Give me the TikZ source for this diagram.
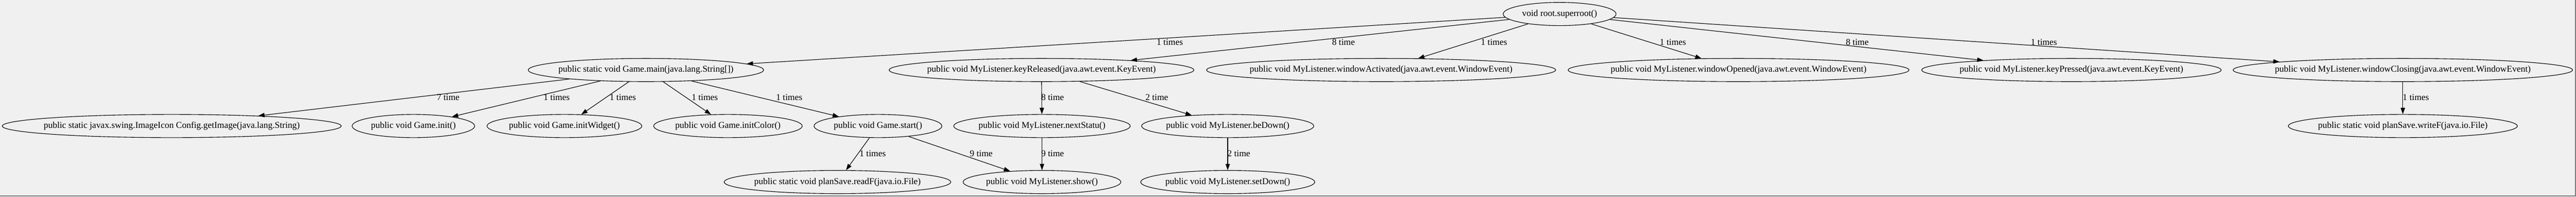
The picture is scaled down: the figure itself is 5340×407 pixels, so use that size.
\documentclass[tikz,border=0pt]{standalone}
\usepackage{fontspec}
\setmainfont{Liberation Serif}
\usetikzlibrary{shapes.geometric,arrows.meta}
\definecolor{bgc}{HTML}{F0F0F0}
\definecolor{framec}{HTML}{7A7A7A}
\newcommand\ctrtxt[1]{\makebox[0pt]{#1}}
\begin{document}
\begin{tikzpicture}[x=1pt,y=-1pt,
  fn/.style={draw=black, line width=1.2pt, ellipse, inner sep=0pt,
    minimum height=48pt, minimum width=#1,
    font=\fontsize{18.67}{22}\selectfont},
  lbl/.style={inner sep=0pt, font=\fontsize{18.67}{22}\selectfont},
  edge/.style={draw=black, line width=1.2pt, -{Triangle[length=13pt,width=9pt]}}
]
\useasboundingbox (0,0) rectangle (5340,407);
\fill[bgc] (0,0) rectangle (5340,407);
\draw[framec, line width=1.5pt] (5339,0) -- (5339,406) -- (0,406);

% row 0
\node[fn=234pt] (root) at (3233,29) {\ctrtxt{void root.superroot()}};
% row 1
\node[fn=488pt] (main) at (1339,145) {\ctrtxt{public static void Game.main(java.lang.String[])}};
\node[fn=632pt] (keyrel) at (2159,145) {\ctrtxt{public void MyListener.keyReleased(java.awt.event.KeyEvent)}};
\node[fn=724pt] (winact) at (2863,145) {\ctrtxt{public void MyListener.windowActivated(java.awt.event.WindowEvent)}};
\node[fn=707pt] (winopen) at (3604,145) {\ctrtxt{public void MyListener.windowOpened(java.awt.event.WindowEvent)}};
\node[fn=621pt] (keypress) at (4294,145) {\ctrtxt{public void MyListener.keyPressed(java.awt.event.KeyEvent)}};
\node[fn=704pt] (winclose) at (4981,145) {\ctrtxt{public void MyListener.windowClosing(java.awt.event.WindowEvent)}};
% row 2
\node[fn=703pt] (getimg) at (356,261) {\ctrtxt{public static javax.swing.ImageIcon Config.getImage(java.lang.String)}};
\node[fn=254pt] (init) at (857,261) {\ctrtxt{public void Game.init()}};
\node[fn=321pt] (initw) at (1170,261) {\ctrtxt{public void Game.initWidget()}};
\node[fn=308pt] (initc) at (1509,261) {\ctrtxt{public void Game.initColor()}};
\node[fn=265pt] (start) at (1820,261) {\ctrtxt{public void Game.start()}};
\node[fn=366pt] (nexts) at (2160,261) {\ctrtxt{public void MyListener.nextStatu()}};
\node[fn=357pt] (bedown) at (2545,261) {\ctrtxt{public void MyListener.beDown()}};
\node[fn=475pt] (writef) at (4981,261) {\ctrtxt{public static void planSave.writeF(java.io.File)}};
% row 3
\node[fn=470pt] (readf) at (1736,377) {\ctrtxt{public static void planSave.readF(java.io.File)}};
\node[fn=327pt] (show) at (2160,377) {\ctrtxt{public void MyListener.show()}};
\node[fn=361pt] (setdown) at (2545,377) {\ctrtxt{public void MyListener.setDown()}};

% edges
\draw[edge] (root) -- (main);
\draw[edge] (root) -- (keyrel);
\draw[edge] (root) -- (winact);
\draw[edge] (root) -- (winopen);
\draw[edge] (root) -- (keypress);
\draw[edge] (root) -- (winclose);
\draw[edge] (main) -- (getimg);
\draw[edge] (main) -- (init);
\draw[edge] (main) -- (initw);
\draw[edge] (main) -- (initc);
\draw[edge] (main) -- (start);
\draw[edge] (keyrel) -- (nexts);
\draw[edge] (keyrel) -- (bedown);
\draw[edge] (winclose) -- (writef);
\draw[edge] (start) -- (readf);
\draw[edge] (start) -- (show);
\draw[edge] (nexts) -- (show);
\draw[edge] (bedown) -- (setdown);

% edge labels
\node[lbl] (l1) at (2425,87) {1 times};
\node[lbl] (l2) at (2785,87) {8 time};
\node[lbl] (l3) at (3097,87) {1 times};
\node[lbl] (l4) at (3468,87) {1 times};
\node[lbl] (l5) at (3850,87) {8 time};
\node[lbl] (l6) at (4237,87) {1 times};
\node[lbl] (l7) at (929,202) {7 time};
\node[lbl] (l8) at (1154,202) {1 times};
\node[lbl] (l9) at (1291,202) {1 times};
\node[lbl] (l10) at (1461,202) {1 times};
\node[lbl] (l11) at (1636,202) {1 times};
\node[lbl] (l12) at (2182,202) {8 time};
\node[lbl] (l13) at (2398,202) {2 time};
\node[lbl] (l14) at (5008,202) {1 times};
\node[lbl] (l15) at (1809,318) {1 times};
\node[lbl] (l16) at (2034,318) {9 time};
\node[lbl] (l17) at (2182,318) {9 time};
\node[lbl] (l18) at (2568,318) {2 time};
\end{tikzpicture}
\end{document}
